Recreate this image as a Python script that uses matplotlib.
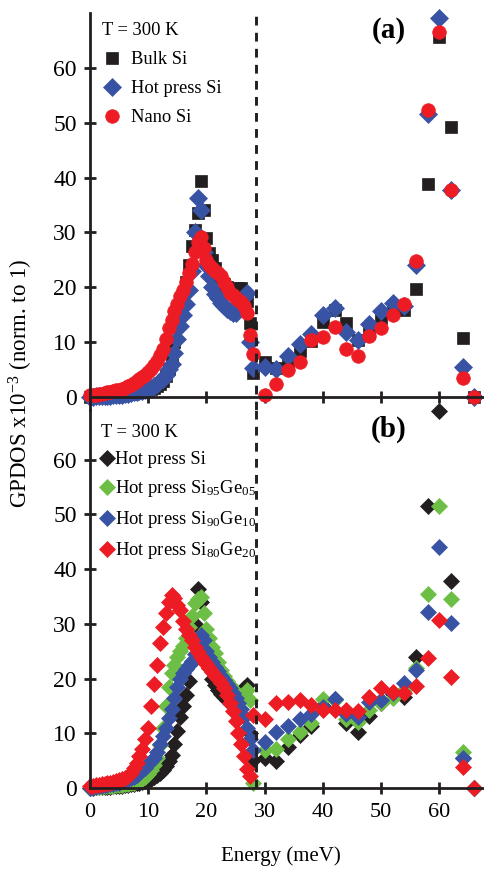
import matplotlib
matplotlib.use("Agg")
import numpy as np
import matplotlib.pyplot as plt

# -------------------------------------------------------------
# GPDOS of Si samples: (a) bulk / hot press / nano Si,
# (b) hot press SiGe alloys.
# -------------------------------------------------------------

plt.rcParams["font.family"] = ["Liberation Serif", "DejaVu Serif"]
plt.rcParams["mathtext.fontset"] = "custom"
plt.rcParams["mathtext.rm"] = "Liberation Serif"
plt.rcParams["mathtext.it"] = "Liberation Serif:italic"
plt.rcParams["mathtext.bf"] = "Liberation Serif:bold"

# energy grid: fine sampling below 28 meV, 2 meV steps above
e_fine = [0.0, 0.5, 1.0, 1.5, 2.0, 2.5, 3.0, 3.5, 4.0, 4.5,
          5.0, 5.5, 6.0, 6.5, 7.0, 7.5, 8.0, 8.5, 9.0, 9.5,
          10.0, 10.5, 11.0, 11.5, 12.0, 12.5, 13.0, 13.5, 14.0, 14.5,
          15.0, 15.5, 16.0, 16.5, 17.0, 17.5, 18.0, 18.5, 19.0, 19.5,
          20.0, 20.5, 21.0, 21.5, 22.0, 22.5, 23.0, 23.5, 24.0, 24.5,
          25.0, 25.5, 26.0, 26.5, 27.0, 27.5]
e_coarse = [28, 30, 32, 34, 36, 38, 40, 42, 44, 46,
            48, 50, 52, 54, 56, 58, 60, 62, 64, 66]

# ---- panel (a) ----
bulk_si_fine = [0.0, 0.0, 0.0, 0.1, 0.1, 0.1, 0.2, 0.2, 0.2, 0.3,
                0.3, 0.4, 0.4, 0.5, 0.6, 0.7, 0.8, 0.9, 1.0, 1.1,
                1.3, 1.5, 1.7, 2.0, 2.4, 2.9, 3.8, 5.0, 7.0, 10.0,
                13.0, 15.5, 18.0, 21.0, 24.0, 27.5, 30.5, 33.5, 39.3, 34.1,
                29.0, 26.2, 25.0, 23.5, 22.0, 21.0, 20.5, 20.0, 19.6, 19.5,
                19.5, 19.8, 19.8, 19.0, 17.5, 13.5]
bulk_si_coarse = [4.4, 6.4, 5.2, 6.5, 8.3, 10.1, 13.7, 15.8, 13.4, 10.4,
                  11.6, 14.4, 16.5, 15.9, 19.7, 38.9, 65.7, 49.3, 10.7, 0.0]

hot_si_fine = [0.0, 0.0, 0.1, 0.1, 0.1, 0.2, 0.2, 0.2, 0.3, 0.3,
               0.4, 0.4, 0.5, 0.6, 0.7, 0.8, 0.9, 1.0, 1.1, 1.3,
               1.5, 1.7, 2.0, 2.4, 2.8, 3.3, 4.0, 5.0, 6.0, 8.0,
               10.5, 13.0, 15.0, 17.0, 19.5, 23.0, 30.0, 36.3, 34.0, 26.5,
               24.0, 22.0, 20.0, 18.8, 18.0, 17.2, 16.6, 16.0, 15.6, 15.3,
               15.3, 15.8, 16.8, 18.2, 18.9, 10.0]
hot_si_coarse = [5.2, 5.5, 5.0, 7.5, 9.6, 11.4, 15.0, 16.2, 11.9, 10.3,
                 13.2, 15.6, 17.1, 16.6, 24.0, 51.5, 69.0, 37.8, 5.5, 0.0]

nano_si_fine = [0.3, 0.3, 0.4, 0.5, 0.6, 0.7, 0.8, 0.9, 1.0, 1.2,
                1.3, 1.5, 1.7, 1.9, 2.2, 2.5, 2.8, 3.2, 3.6, 4.0,
                4.5, 5.0, 5.8, 6.6, 7.6, 8.8, 10.5, 12.5, 14.0, 15.6,
                17.0, 18.3, 19.5, 21.0, 22.5, 24.2, 26.5, 28.2, 29.2, 27.2,
                25.0, 24.0, 23.5, 23.0, 22.6, 22.0, 21.0, 20.0, 19.0, 18.5,
                18.0, 17.7, 17.3, 16.5, 15.2, 11.3]
nano_si_coarse = [7.8, 0.4, 2.3, 4.9, 6.4, 10.4, 11.0, 12.8, 8.7, 7.5,
                  11.1, 12.5, 15.0, 17.0, 24.7, 52.4, 66.6, 37.8, 3.4, 0.0]

# ---- panel (b) ----
sige05_fine = [0.0, 0.1, 0.1, 0.2, 0.2, 0.3, 0.3, 0.4, 0.4, 0.5,
               0.5, 0.6, 0.7, 0.8, 0.9, 1.0, 1.2, 1.4, 1.7, 2.1,
               2.6, 3.3, 4.2, 5.5, 7.8, 11.0, 15.0, 18.5, 21.0, 22.5,
               24.0, 25.0, 26.0, 27.5, 29.5, 31.5, 33.8, 34.5, 35.0, 31.9,
               29.0, 27.5, 25.8, 24.6, 23.0, 21.5, 20.5, 19.5, 18.8, 18.0,
               17.5, 17.0, 16.5, 17.0, 18.0, 16.0]
sige05_coarse = [0.9, 6.9, 7.2, 9.0, 10.2, 11.8, 16.2, 16.1, 12.7, 12.1,
                 14.3, 15.5, 16.4, 17.9, 22.0, 35.4, 51.6, 34.5, 6.6, 0.0]

sige10_fine = [0.0, 0.1, 0.2, 0.3, 0.4, 0.5, 0.6, 0.7, 0.8, 0.9,
               1.0, 1.2, 1.4, 1.6, 1.8, 2.1, 2.4, 2.8, 3.2, 3.7,
               4.3, 5.0, 5.5, 6.5, 8.0, 9.5, 11.0, 12.8, 14.5, 16.5,
               18.5, 20.0, 21.0, 21.8, 22.5, 23.3, 24.5, 26.0, 28.0, 27.0,
               25.0, 24.0, 23.0, 22.2, 21.3, 20.5, 19.7, 19.0, 18.2, 17.4,
               16.5, 15.5, 14.5, 13.0, 11.0, 9.0]
sige10_coarse = [6.9, 8.5, 10.2, 11.4, 12.7, 13.6, 14.8, 16.2, 13.6, 13.0,
                 15.8, 16.1, 17.3, 19.2, 21.6, 32.2, 44.1, 30.1, 5.4, 0.0]

sige20_fine = [0.3, 0.4, 0.5, 0.6, 0.7, 0.8, 0.9, 1.0, 1.1, 1.2,
               1.4, 1.6, 1.9, 2.2, 2.8, 3.6, 4.5, 5.8, 7.2, 9.0,
               11.0, 15.0, 19.0, 22.5, 26.5, 29.5, 32.0, 34.0, 35.3, 34.8,
               33.5, 32.5, 30.5, 29.0, 28.0, 27.0, 25.8, 24.8, 24.0, 23.3,
               22.6, 22.0, 21.2, 20.5, 19.9, 19.2, 18.2, 17.0, 15.5, 14.0,
               12.2, 10.0, 8.0, 5.8, 3.5, 2.2]
sige20_coarse = [13.3, 12.7, 15.5, 15.8, 16.1, 15.2, 14.3, 14.3, 14.3, 14.0,
                 16.7, 18.2, 17.6, 17.3, 18.6, 23.7, 30.7, 20.3, 3.9, 0.0]

energy = np.array(e_fine + e_coarse)

BLACK = "#231f20"
BLUE = "#3953a4"
RED = "#ed1c24"
GREEN = "#6dbe45"

E_CUT = 28.5


def style_axis(ax, ylim, show_xlabels):
    ax.set_xlim(0, 67.5)
    ax.set_ylim(*ylim)
    for side in ("top", "right"):
        ax.spines[side].set_visible(False)
    ax.spines["bottom"].set_position(("data", 0))
    for side in ("left", "bottom"):
        ax.spines[side].set_linewidth(2.0)
        ax.spines[side].set_color(BLACK)
    ax.set_xticks([0, 10, 20, 30, 40, 50, 60])
    ax.set_yticks([0, 10, 20, 30, 40, 50, 60])
    ax.tick_params(axis="both", direction="inout", length=9, width=2.0,
                   color=BLACK)
    ax.tick_params(axis="y", pad=5, labelsize=17)
    ax.tick_params(axis="x", pad=6, labelsize=16, labelbottom=show_xlabels)
    ax.patch.set_visible(False)
    ax.axvline(E_CUT, color=BLACK, lw=2.1, ls=(0, (3, 2.5)), zorder=5)


fig = plt.figure(figsize=(4.84, 8.69), dpi=100)
W, H = 484.0, 869.0
ax_a = fig.add_axes([90 / W, (H - 410) / H, 393 / W, 397 / H])
ax_b = fig.add_axes([90 / W, (H - 788) / H, 393 / W, 378 / H])

# ---- (a) ----
style_axis(ax_a, (-2.4, 70), False)
kw = dict(ls="none", clip_on=False, mew=0.5)
ax_a.plot(energy, bulk_si_fine + bulk_si_coarse, marker="s", ms=9.2,
          color=BLACK, label="Bulk Si", **kw)
ax_a.plot(energy, hot_si_fine + hot_si_coarse, marker="D", ms=9.0,
          color=BLUE, label="Hot press Si", **kw)
ax_a.plot(energy, nano_si_fine + nano_si_coarse, marker="o", ms=9.8,
          color=RED, label="Nano Si", **kw)
ax_a.legend(loc="upper left", bbox_to_anchor=(0.03, 0.977),
            borderaxespad=0, borderpad=0, frameon=False,
            title="T = 300 K", title_fontsize=13.3, fontsize=13.3,
            alignment="left", numpoints=1, handlelength=1.08,
            handletextpad=0.5, labelspacing=0.65)
ax_a.text(0.76, 0.955, "(a)", transform=ax_a.transAxes, ha="center",
          va="center", fontsize=21, fontweight="bold")

# ---- (b) ----
style_axis(ax_b, (0, 69.1), True)
ax_b.plot(energy, hot_si_fine + hot_si_coarse, marker="D", ms=8.4,
          color=BLACK, label="Hot press Si", **kw)
ax_b.plot(energy, sige05_fine + sige05_coarse, marker="D", ms=8.4,
          color=GREEN, label="Hot press Si$_{95}$Ge$_{05}$", **kw)
ax_b.plot(energy, sige10_fine + sige10_coarse, marker="D", ms=8.4,
          color=BLUE, label="Hot press Si$_{90}$Ge$_{10}$", **kw)
ax_b.plot(energy, sige20_fine + sige20_coarse, marker="D", ms=8.4,
          color=RED, label="Hot press Si$_{80}$Ge$_{20}$", **kw)
ax_b.legend(loc="upper left", bbox_to_anchor=(0.027, 0.963),
            borderaxespad=0, borderpad=0, frameon=False,
            title="T = 300 K", title_fontsize=13.4, fontsize=13.4,
            alignment="left", numpoints=1, handlelength=0.65,
            handletextpad=0.12, labelspacing=0.54)
ax_b.text(0.76, 0.95, "(b)", transform=ax_b.transAxes, ha="center",
          va="center", fontsize=21, fontweight="bold")

fig.text(21 / W, 1 - 383 / H, "GPDOS x10$^{-3}$ (norm. to 1)", rotation=90,
         ha="center", va="center", fontsize=16.5)
fig.text(281 / W, 1 - 856 / H, "Energy (meV)", ha="center", va="center",
         fontsize=15)

fig.savefig("out.png", dpi=100)
